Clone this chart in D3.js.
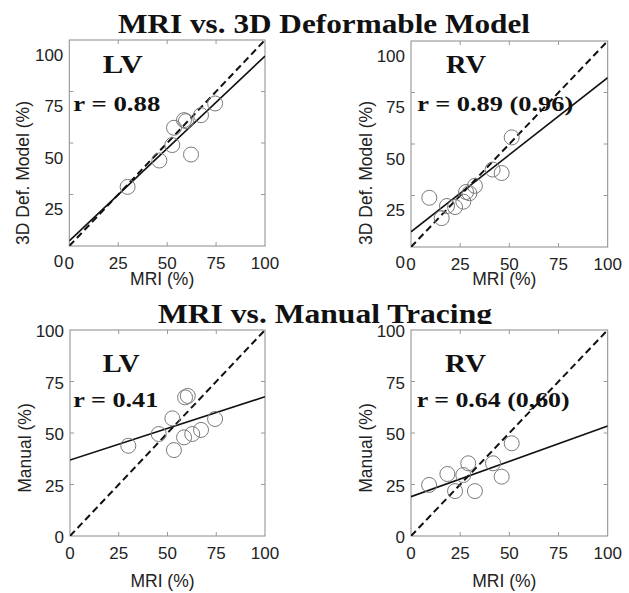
<!DOCTYPE html>
<html>
<head>
  <meta charset="utf-8">
  <script src="https://cdn.jsdelivr.net/npm/d3@7/dist/d3.min.js"></script>
  <style>
    body { margin: 0; background: #fff; }
    svg { display: block; }
  </style>
</head>
<body>
<svg width="629" height="593"></svg>

<script>
  // ticks shared by all four panels
  var ticks = [0, 25, 50, 75, 100];

  // MRI vs 3D deformable model
  var lvDefX = [29.8, 46.0, 52.6, 53.5, 58.6, 59.6, 62.2, 67.3, 74.5];
  var lvDefY = [28.7, 41.5, 49.0, 57.4, 61.1, 60.6, 44.4, 63.5, 69.2];
  var rvDefX = [9.3, 15.6, 18.3, 22.4, 26.6, 28.0, 29.7, 32.5, 41.5, 46.1, 51.2];
  var rvDefY = [23.9, 14.0, 19.9, 19.4, 22.0, 26.7, 26.1, 29.7, 37.6, 35.9, 53.2];

  // MRI vs manual tracing
  var lvManX = [29.9, 45.5, 52.5, 53.3, 58.5, 59.0, 60.4, 62.7, 67.2, 74.4];
  var lvManY = [43.8, 49.5, 57.1, 41.7, 47.9, 67.3, 68.0, 49.5, 51.5, 56.8];
  var rvManX = [9.2, 18.5, 22.4, 26.6, 29.1, 32.5, 41.7, 46.1, 51.2];
  var rvManY = [24.8, 30.1, 21.8, 29.6, 35.3, 21.8, 35.3, 28.8, 45.0];

  // fitted line: value at MRI = 0 and MRI = 100
  var fitLvDef = [2.5, 92.2];
  var fitRvDef = [7.4, 82.2];
  var fitLvMan = [36.9, 67.6];
  var fitRvMan = [19.1, 53.4];

  var rLabels = ["r = 0.88", "r = 0.89 (0.96)", "r = 0.41", "r = 0.64 (0,60)"];
  var chambers = ["LV", "RV", "LV", "RV"];
  var titles = ["MRI vs. 3D Deformable Model", "MRI vs. Manual Tracing"];
  var yTitles = ["3D Def. Model (%)", "Manual (%)"];
  var xTitle = "MRI (%)";

  var svg = d3.select("svg");
  var sans = "'Liberation Sans', Arial, Helvetica, sans-serif";
  var serif = "'Liberation Serif', 'Times New Roman', serif";

  // 标题 (top)
  svg.append("text")
    .attr("x", 118).attr("y", 33)
    .attr("textLength", 412).attr("lengthAdjust", "spacingAndGlyphs")
    .style("font-family", serif).style("font-weight", "bold").style("font-size", "27px")
    .style("fill", "#111")
    .text(titles[0]);

  svg.append("text")
    .attr("x", 158).attr("y", 323)
    .attr("textLength", 334).attr("lengthAdjust", "spacingAndGlyphs")
    .style("font-family", serif).style("font-weight", "bold").style("font-size", "27px")
    .style("fill", "#111")
    .text(titles[1]);

  // lower half is painted over the second title's descenders, as in the figure
  svg.append("rect")
    .attr("x", 0).attr("y", 324).attr("width", 629).attr("height", 269)
    .style("fill", "#fff");

  var panels = [
    { xs: lvDefX, ys: lvDefY, fit: fitLvDef, x0: 69.3, x1: 265, y0: 40, y1: 246,
      labShift: 15, xLabY: 279, yLabX: 22.5, yLabY: 173, yTitle: yTitles[0],
      nameX: 102.7, nameY: 73.3, rX: 73.3, rY: 111, nameLen: 40, rLen: 87 },
    { xs: rvDefX, ys: rvDefY, fit: fitRvDef, x0: 411, x1: 607.7, y0: 41, y1: 247,
      labShift: 15, xLabY: 279, yLabX: 366, yLabY: 173, yTitle: yTitles[0],
      nameX: 446, nameY: 73.3, rX: 417.3, rY: 111, nameLen: 40, rLen: 156 },
    { xs: lvManX, ys: lvManY, fit: fitLvMan, x0: 70, x1: 265, y0: 330, y1: 536,
      labShift: 1.5, xLabY: 581, yLabX: 25, yLabY: 448, yTitle: yTitles[1],
      nameX: 102.7, nameY: 371.7, rX: 73.3, rY: 407.3, nameLen: 37, rLen: 85 },
    { xs: rvManX, ys: rvManY, fit: fitRvMan, x0: 411, x1: 607.7, y0: 330, y1: 536,
      labShift: 1.5, xLabY: 581, yLabX: 366, yLabY: 448, yTitle: yTitles[1],
      nameX: 445, nameY: 371.7, rX: 416.7, rY: 407.3, nameLen: 41, rLen: 153 }
  ];

  panels.forEach(function(p, i) {
    var x = d3.scaleLinear().domain([0, 100]).range([p.x0, p.x1]);
    var y = d3.scaleLinear().domain([0, 100]).range([p.y1, p.y0]);
    var g = svg.append("g");

    var clipId = "clip" + i;
    g.append("clipPath").attr("id", clipId)
      .append("rect")
      .attr("x", p.x0).attr("y", p.y0)
      .attr("width", p.x1 - p.x0).attr("height", p.y1 - p.y0);

    // box
    g.append("rect")
      .attr("x", p.x0).attr("y", p.y0)
      .attr("width", p.x1 - p.x0).attr("height", p.y1 - p.y0)
      .style("fill", "#fff").style("stroke", "#8a8a8a").style("stroke-width", 1);

    // inner ticks on the four sides
    var inner = ticks.slice(1, 4);
    inner.forEach(function(t) {
      g.append("line").attr("x1", x(t)).attr("x2", x(t)).attr("y1", p.y1).attr("y2", p.y1 - 4)
        .style("stroke", "#999");
      g.append("line").attr("x1", x(t)).attr("x2", x(t)).attr("y1", p.y0).attr("y2", p.y0 + 4)
        .style("stroke", "#999");
      g.append("line").attr("x1", p.x0).attr("x2", p.x0 + 4).attr("y1", y(t)).attr("y2", y(t))
        .style("stroke", "#999");
      g.append("line").attr("x1", p.x1).attr("x2", p.x1 - 4).attr("y1", y(t)).attr("y2", y(t))
        .style("stroke", "#999");
    });

    // x tick labels
    g.selectAll(".xt").data(ticks).enter().append("text")
      .attr("x", function(d) { return x(d); })
      .attr("y", p.y1 + 17)
      .attr("dy", "0.35em")
      .style("text-anchor", "middle")
      .style("font-family", sans).style("font-size", "17px").style("fill", "#222")
      .text(function(d) { return d; });

    // y tick labels (top row sits lower than its ticks in the figure)
    g.selectAll(".yt").data(ticks).enter().append("text")
      .attr("x", p.x0 - 6)
      .attr("y", function(d) { return y(d) + p.labShift; })
      .attr("dy", "0.35em")
      .style("text-anchor", "end")
      .style("font-family", sans).style("font-size", "17px").style("fill", "#222")
      .text(function(d) { return d; });

    // axis titles
    g.append("text")
      .attr("x", (p.x0 + p.x1) / 2 - 5).attr("y", p.xLabY)
      .attr("dy", "0.35em")
      .style("text-anchor", "middle")
      .style("font-family", sans).style("font-size", "17.5px").style("fill", "#222")
      .text(xTitle);

    g.append("text")
      .attr("transform", "translate(" + p.yLabX + "," + p.yLabY + ") rotate(-90)")
      .attr("dy", "0.35em")
      .style("text-anchor", "middle")
      .style("font-family", sans).style("font-size", "17.5px").style("fill", "#222")
      .text(p.yTitle);

    var plot = g.append("g").attr("clip-path", "url(#" + clipId + ")");

    // identity line
    plot.append("line")
      .attr("x1", x(0)).attr("y1", y(0)).attr("x2", x(100)).attr("y2", y(100))
      .style("stroke", "#111").style("stroke-width", 2).style("stroke-dasharray", "7,4");

    // fitted line
    plot.append("line")
      .attr("x1", x(0)).attr("y1", y(p.fit[0])).attr("x2", x(100)).attr("y2", y(p.fit[1]))
      .style("stroke", "#111").style("stroke-width", 1.6);

    // points
    plot.selectAll("circle").data(p.xs).enter().append("circle")
      .attr("cx", function(d) { return x(d); })
      .attr("cy", function(d, j) { return y(p.ys[j]); })
      .attr("r", 7.5)
      .style("fill", "none").style("stroke", "#7a7a7a").style("stroke-width", 1);

    // LV / RV and r value
    g.append("text")
      .attr("x", p.nameX).attr("y", p.nameY)
      .attr("textLength", p.nameLen).attr("lengthAdjust", "spacingAndGlyphs")
      .style("font-family", serif).style("font-weight", "bold").style("font-size", "25px")
      .style("fill", "#111")
      .text(chambers[i]);

    g.append("text")
      .attr("x", p.rX).attr("y", p.rY)
      .attr("textLength", p.rLen).attr("lengthAdjust", "spacingAndGlyphs")
      .style("font-family", serif).style("font-weight", "bold").style("font-size", "21px")
      .style("fill", "#111")
      .text(rLabels[i]);
  });
</script>
</body>
</html>
